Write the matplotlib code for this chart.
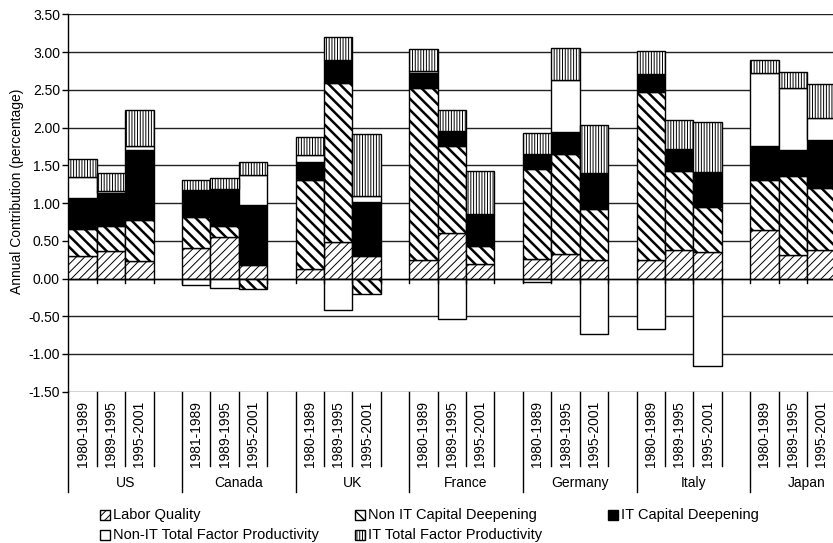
import numpy as np
import matplotlib.pyplot as plt
from matplotlib.patches import Rectangle

plt.rcParams['font.family'] = ['Liberation Sans', 'DejaVu Sans']
plt.rcParams['axes.unicode_minus'] = False

# data
countries = ['US', 'Canada', 'UK', 'France', 'Germany', 'Italy', 'Japan']
periods = [['1980-1989', '1989-1995', '1995-2001'],
           ['1981-1989', '1989-1995', '1995-2001'],
           ['1980-1989', '1989-1995', '1995-2001'],
           ['1980-1989', '1989-1995', '1995-2001'],
           ['1980-1989', '1989-1995', '1995-2001'],
           ['1980-1989', '1989-1995', '1995-2001'],
           ['1980-1989', '1989-1995', '1995-2001']]

labor_quality = [0.30, 0.36, 0.23, 0.40, 0.55, 0.18, 0.12, 0.49, 0.30,
                 0.24, 0.61, 0.19, 0.26, 0.33, 0.24, 0.24, 0.38, 0.35,
                 0.64, 0.31, 0.38]
non_it_capital = [0.36, 0.33, 0.55, 0.41, 0.15, -0.14, 1.18, 2.10, -0.21,
                  2.28, 1.14, 0.24, 1.19, 1.32, 0.68, 2.23, 1.05, 0.60,
                  0.66, 1.05, 0.82]
it_capital = [0.41, 0.45, 0.92, 0.37, 0.49, 0.80, 0.24, 0.30, 0.71,
              0.21, 0.21, 0.41, 0.20, 0.29, 0.48, 0.24, 0.29, 0.46,
              0.45, 0.35, 0.64]
non_it_tfp = [0.28, 0.02, 0.05, -0.08, -0.13, 0.39, 0.10, -0.42, 0.09,
              0.02, -0.54, 0.02, -0.05, 0.69, -0.74, -0.67, -0.01, -1.16,
              0.98, 0.82, 0.29]
it_tfp = [0.23, 0.24, 0.49, 0.13, 0.14, 0.18, 0.24, 0.31, 0.81,
          0.29, 0.28, 0.57, 0.28, 0.43, 0.64, 0.31, 0.38, 0.67,
          0.16, 0.21, 0.45]

series_names = ['Labor Quality', 'Non IT Capital Deepening', 'IT Capital Deepening',
                'Non-IT Total Factor Productivity', 'IT Total Factor Productivity']
series = [labor_quality, non_it_capital, it_capital, non_it_tfp, it_tfp]
faces = ['white', 'white', 'black', 'white', 'white']
hatches = ['////', '\\\\\\', '', '', '||||||']
hatch_lw = [0.7, 1.8, 0.8, 0.8, 0.7]


def set_hlw(p, lw):
    # per-artist hatch width when the matplotlib version has it
    if hasattr(p, 'set_hatch_linewidth'):
        p.set_hatch_linewidth(lw)


fig = plt.figure(figsize=(8.33, 5.43), dpi=100)
# the original is cropped on the right, so the axes run past the figure edge
ax = fig.add_axes([0.082, 0.2786, 0.955, 0.6948])

ng = len(countries)
x = np.array([4 * g + k + 0.5 for g in range(ng) for k in range(3)])

pos = np.zeros(len(x))
neg = np.zeros(len(x))
for vals, fc, h, hl in zip(series, faces, hatches, hatch_lw):
    v = np.array(vals)
    bottom = np.where(v >= 0, pos, neg)
    bars = ax.bar(x, v, 1.0, bottom=bottom, color=fc, edgecolor='black',
                  hatch=h, linewidth=1.0, zorder=3)
    for p in bars:
        set_hlw(p, hl)
    pos += np.clip(v, 0, None)
    neg += np.clip(v, None, 0)

ax.set_xlim(0, 4 * ng)
ax.set_ylim(-1.5, 3.5)
yt = np.arange(-1.5, 3.51, 0.5)
ax.set_yticks(yt)
ax.set_yticklabels(['%.2f' % t for t in yt])
ax.yaxis.grid(True, color='#222222', linewidth=1.0, zorder=0)
ax.set_axisbelow(True)
ax.tick_params(axis='y', direction='out', length=4, width=1, labelsize=10, pad=2)
ax.set_xticks([])
for s in ['top', 'right', 'bottom']:
    ax.spines[s].set_visible(False)
ax.spines['left'].set_linewidth(1.0)
ax.set_ylabel('Annual Contribution (percentage)', fontsize=10)
ax.yaxis.set_label_coords(-0.056, 0.532)

# category axis at zero with tick marks between categories
ax.axhline(0, color='black', linewidth=1.0, zorder=4)
for b in range(1, 4 * ng):
    ax.plot([b, b], [0, -0.055], color='black', linewidth=1.0, zorder=4, clip_on=False)

# two-level category labels below the plot
tr = ax.get_xaxis_transform()
for g in range(ng):
    x0 = 4 * g
    ax.plot([x0, x0], [0, -0.266], color='black', linewidth=1.0, transform=tr, clip_on=False)
    for k in range(1, 4):
        ax.plot([x0 + k, x0 + k], [0, -0.197], color='black', linewidth=1.0,
                transform=tr, clip_on=False)
    for k in range(3):
        ax.text(x0 + k + 0.5, -0.111, periods[g][k], rotation=90, ha='center',
                va='center', fontsize=10, transform=tr)
    ax.text(x0 + 2, -0.242, countries[g], ha='center', va='center', fontsize=10,
            transform=tr)

# legend laid out by hand: 3 columns, 2 rows
W, H = 833.0, 543.0
leg_cols = [100, 355, 608]
leg_rows = [515, 535]
for i, (name, fc, h, hl) in enumerate(zip(series_names, faces, hatches, hatch_lw)):
    r, c = divmod(i, 3)
    px, py = leg_cols[c], leg_rows[r]
    rect = Rectangle((px / W, 1 - (py + 5) / H), 10 / W, 10 / H, transform=fig.transFigure,
                     facecolor=fc, edgecolor='black', hatch=h, linewidth=1.0)
    set_hlw(rect, min(hl, 1.0))
    fig.add_artist(rect)
    fig.text((px + 13) / W, 1 - py / H, name, ha='left', va='center', fontsize=10.5)

fig.savefig('out.png', dpi=100)
